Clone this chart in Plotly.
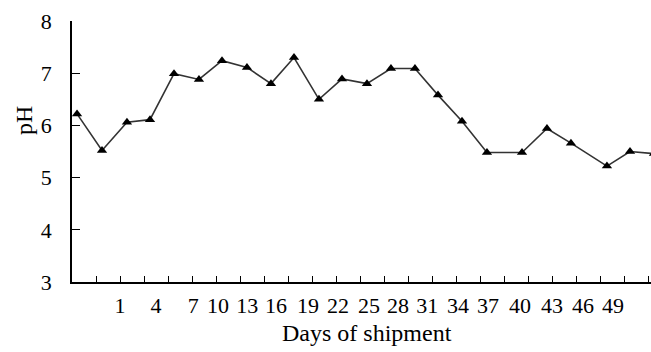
import plotly.graph_objects as go

# Sample positions along the shipment axis (in axis units, one unit per tick interval)
sample_pos = [0.21, 1.25, 2.29, 3.25, 4.25, 5.29, 6.25, 7.29, 8.29, 9.25, 10.29, 11.25,
              12.29, 13.29, 14.29, 15.25, 16.25, 17.29, 18.75, 19.79, 20.79, 22.29, 23.25, 24.25]
ph_values = [6.22, 5.52, 6.06, 6.11, 6.99, 6.88, 7.24, 7.11, 6.80, 7.30, 6.50, 6.89,
             6.80, 7.09, 7.09, 6.58, 6.08, 5.48, 5.48, 5.94, 5.66, 5.22, 5.50, 5.46]

day_labels = ["1", "4", "7", "10", "13", "16", "19", "22", "25", "28", "31", "34",
              "37", "40", "43", "46", "49"]
day_label_pos = [2.0, 3.5, 5.05, 6.08, 7.3, 8.5, 9.83, 11.08, 12.38, 13.58, 14.8, 16.08,
                 17.33, 18.67, 20.0, 21.29, 22.54]

y_ticks = [3, 4, 5, 6, 7, 8]

FONT = "Liberation Serif"
x_range = [0, 24.125]

fig = go.Figure()
fig.add_trace(go.Scatter(
    x=sample_pos, y=ph_values, mode="lines+markers",
    line=dict(color="#333333", width=1.6),
    marker=dict(symbol="triangle-up", size=9, color="black"),
    showlegend=False, cliponaxis=True,
))
# invisible trace on the label axis
fig.add_trace(go.Scatter(x=[None], y=[None], xaxis="x2", showlegend=False, hoverinfo="skip"))

fig.update_layout(
    width=651, height=352,
    margin=dict(l=72, r=0, t=21, b=70),
    paper_bgcolor="white", plot_bgcolor="white",
    font=dict(family=FONT, size=22, color="black"),
    xaxis=dict(
        range=x_range, showgrid=False, zeroline=False,
        showline=True, linecolor="black", linewidth=1.6,
        tickmode="linear", tick0=0, dtick=1,
        ticks="inside", ticklen=6, tickwidth=1.3, tickcolor="black",
        showticklabels=False,
    ),
    xaxis2=dict(
        overlaying="x", side="bottom", range=x_range, showgrid=False, zeroline=False,
        showline=False, tickmode="array", tickvals=day_label_pos, ticktext=day_labels,
        ticks="", ticklabelstandoff=8,
        tickfont=dict(family=FONT, size=22, color="black"),
    ),
    yaxis=dict(
        range=[3, 8], showgrid=False, zeroline=False,
        showline=True, linecolor="black", linewidth=1.6,
        tickmode="array", tickvals=y_ticks,
        ticks="inside", ticklen=8, tickwidth=1.3, tickcolor="black",
        ticklabelstandoff=14,
        tickfont=dict(family=FONT, size=22, color="black"),
    ),
    annotations=[
        dict(text="Days of shipment", xref="paper", yref="paper", x=0.5095, y=-0.195,
             xanchor="center", yanchor="middle", showarrow=False,
             font=dict(family=FONT, size=24, color="black")),
        dict(text="pH", xref="paper", yref="paper", x=-0.083, y=0.62, textangle=-90,
             xanchor="center", yanchor="middle", showarrow=False,
             font=dict(family=FONT, size=24, color="black")),
    ],
)

fig.write_html("out.html")
